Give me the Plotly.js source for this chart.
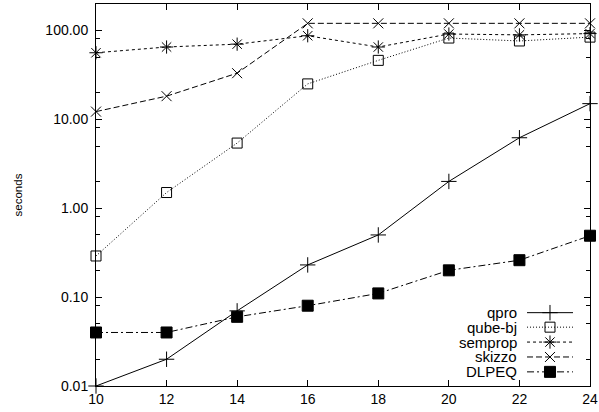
<!DOCTYPE html>
<html>
<head>
<meta charset="utf-8">
<script src="https://cdn.plot.ly/plotly-3.0.1.min.js"></script>
<style>html,body{margin:0;padding:0;background:#fff;}#chart{width:599px;height:412px;}</style>
</head>
<body>
<div id="chart"></div>
<script>
// ---- data ----
var sizes = [10, 12, 14, 16, 18, 20, 22, 24];
var qpro    = [0.01, 0.02, 0.07, 0.23, 0.50, 2.0, 6.2, 15];
var qubeBj  = [0.29, 1.5, 5.4, 25, 46, 82, 76, 84];
var semprop = [56, 65, 70, 87, 65, 91, 89, 92];
var skizzo  = [12.2, 18.2, 33, 120, 120, 120, 120, 120];
var dlpeq   = [0.04, 0.04, 0.06, 0.08, 0.11, 0.20, 0.26, 0.49];
var seriesNames = ['qpro', 'qube-bj', 'semprop', 'skizzo', 'DLPEQ'];
var xTickVals = [10, 12, 14, 16, 18, 20, 22, 24];
var yTickVals = [0.01, 0.1, 1, 10, 100];
var yTickText = ['0.01', '0.10', '1.00', '10.00', '100.00'];
var yMinorVals = [0.02, 0.05, 0.08, 0.2, 0.5, 0.8, 2, 5, 8, 20, 50, 80];

// ---- styles ----
var styles = [
  {dash: 'solid', symbol: 'cross-thin-open', size: 11},
  {dash: '1px,2px', symbol: 'square-open', size: 10},
  {dash: '3px,3px', symbol: 'asterisk-open', size: 11},
  {dash: '6px,3px', symbol: 'x-thin-open', size: 10},
  {dash: '7px,3px,2px,3px', symbol: 'square', size: 11}
];
var values = [qpro, qubeBj, semprop, skizzo, dlpeq];

var traces = [];
values.forEach(function (v, i) {
  var s = styles[i];
  traces.push({
    x: sizes, y: v, type: 'scatter', mode: 'lines+markers', name: seriesNames[i],
    line: {color: '#000', width: 1, dash: s.dash},
    marker: {symbol: s.symbol, size: s.size, color: '#000', line: {color: '#000', width: 1}},
    showlegend: false, cliponaxis: false
  });
});

// custom gnuplot-style key (text on the left, sample on the right), in paper-like overlay axes
var keyRows = [0.192, 0.154, 0.115, 0.076, 0.037];
var keyX0 = 0.8725, keyX1 = 0.9656, keyXm = 0.919, keyText = 0.856;
var annotations = [];
seriesNames.forEach(function (n, i) {
  var s = styles[i];
  traces.push({
    x: [keyX0, keyX1], y: [keyRows[i], keyRows[i]], xaxis: 'x2', yaxis: 'y2',
    type: 'scatter', mode: 'lines', line: {color: '#000', width: 1, dash: s.dash},
    showlegend: false, hoverinfo: 'skip'
  });
  traces.push({
    x: [keyXm], y: [keyRows[i]], xaxis: 'x2', yaxis: 'y2',
    type: 'scatter', mode: 'markers',
    marker: {symbol: s.symbol, size: s.size, color: '#000', line: {color: '#000', width: 1}},
    showlegend: false, hoverinfo: 'skip'
  });
  annotations.push({
    xref: 'paper', yref: 'paper', x: keyText, y: keyRows[i], xanchor: 'right', yanchor: 'middle',
    text: n, showarrow: false, font: {family: 'Liberation Sans, Arial, sans-serif', size: 15, color: '#000'}
  });
});

var layout = {
  width: 599, height: 412,
  margin: {l: 96, r: 9, t: 4, b: 26, pad: 0},
  paper_bgcolor: '#fff', plot_bgcolor: '#fff',
  font: {family: 'Liberation Sans, Arial, sans-serif', size: 14, color: '#000'},
  showlegend: false,
  xaxis: {
    range: [10, 24], tickmode: 'array', tickvals: xTickVals,
    ticks: 'inside', ticklen: 6, tickwidth: 1, tickcolor: '#000',
    showline: true, linecolor: '#000', linewidth: 1, mirror: 'ticks',
    showgrid: false, zeroline: false, tickfont: {size: 14}
  },
  yaxis: {
    type: 'log', range: [-2, Math.log10(198)],
    tickmode: 'array', tickvals: yTickVals, ticktext: yTickText,
    ticks: 'inside', ticklen: 6, tickwidth: 1, tickcolor: '#000',
    showline: true, linecolor: '#000', linewidth: 1, mirror: 'ticks',
    showgrid: false, zeroline: false, tickfont: {size: 14}, ticklabelstandoff: 4,
    minor: {tickmode: 'array', tickvals: yMinorVals, ticks: 'inside', ticklen: 4, tickcolor: '#000', tickwidth: 1, showgrid: false},
    title: {text: 'seconds', font: {size: 11.5}, standoff: 20}
  },
  xaxis2: {overlaying: 'x', range: [0, 1], visible: false, fixedrange: true},
  yaxis2: {overlaying: 'y', range: [0, 1], visible: false, fixedrange: true},
  annotations: annotations
};

Plotly.newPlot('chart', traces, layout, {staticPlot: true, displayModeBar: false});
</script>
</body>
</html>
